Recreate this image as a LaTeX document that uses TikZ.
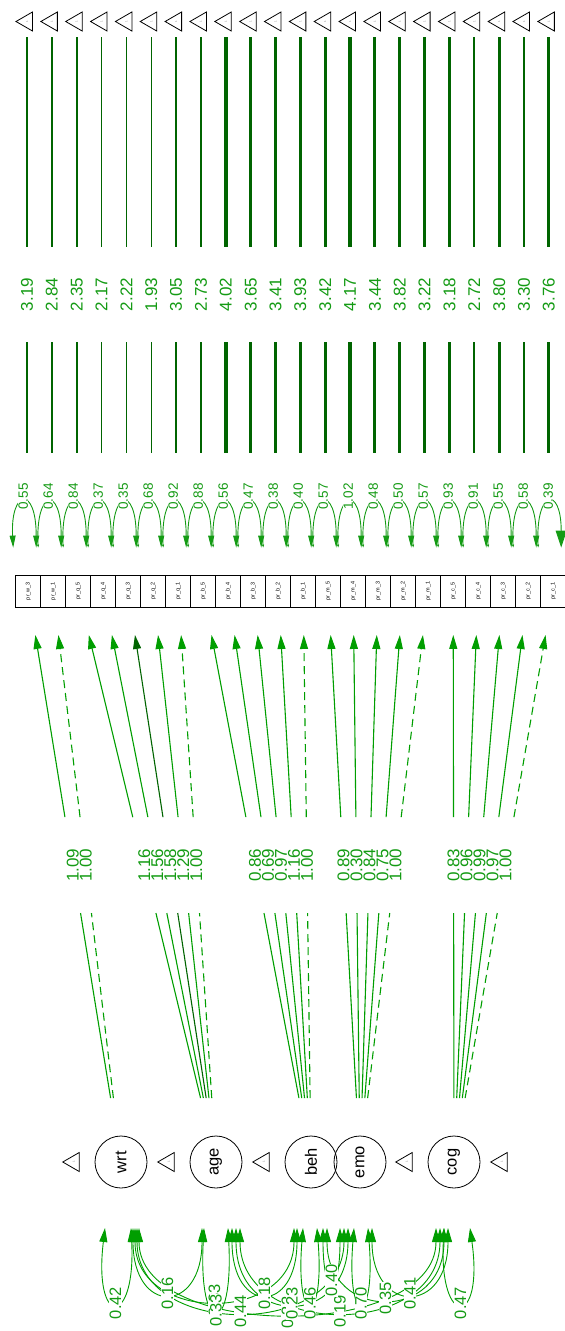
\documentclass[tikz,border=0pt]{standalone}
\usepackage{fontspec}
\setmainfont{Liberation Sans}
\usetikzlibrary{arrows.meta,calc,shapes.geometric}
\definecolor{dkg}{RGB}{0,100,0}
\definecolor{ldg}{RGB}{0,158,0}
\definecolor{txg}{RGB}{20,155,20}
\begin{document}
\begin{tikzpicture}[x=1pt,y=-1pt,
  tri/.style={regular polygon, regular polygon sides=3, draw, line width=0.8pt,
    minimum size=22pt, inner sep=0pt, rotate=90, text=gray, font=\fontsize{3}{3}\selectfont},
  indbox/.style={draw, line width=0.8pt, minimum width=25pt, minimum height=32pt,
    inner sep=0pt, font=\fontsize{5.5}{6}\selectfont},
  lat/.style={circle, draw, line width=0.8pt, minimum size=52pt, inner sep=0pt,
    font=\fontsize{16.5}{17}\selectfont},
  icline/.style={draw=dkg},
  iclab/.style={fill=white, text=txg, inner sep=1pt, minimum height=95pt,
    font=\fontsize{17}{17}\selectfont},
  resline/.style={draw=txg, line width=0.9pt},
  reslab/.style={fill=white, text=txg, inner sep=0.5pt, font=\fontsize{13.5}{14}\selectfont},
  ld/.style={draw=ldg, line width=1.1pt},
  ldd/.style={ld, dash pattern=on 8pt off 5pt},
  ldk/.style={draw=dkg, line width=1.1pt},
  ldlab/.style={text=txg, inner sep=0pt, font=\fontsize{17}{17}\selectfont},
  cov/.style={draw=ldg, line width=0.9pt,
    {Triangle[length=14pt,width=8pt]}-{Triangle[length=14pt,width=8pt]}},
  botlab/.style={fill=white, text=txg, inner sep=0.5pt, font=\fontsize{16.5}{17}\selectfont}
]
\useasboundingbox (0,0) rectangle (565,1331);
\clip (0,0) rectangle (565,1331);

% indicators, intercepts, residuals
\foreach \i/\nm/\ic/\rv in {
0/pr\_w\_3/3.19/0.55, 1/pr\_w\_1/2.84/0.64, 2/pr\_q\_5/2.35/0.84, 3/pr\_q\_4/2.17/0.37,
4/pr\_q\_3/2.22/0.35, 5/pr\_q\_2/1.93/0.68, 6/pr\_q\_1/3.05/0.92, 7/pr\_b\_5/2.73/0.88,
8/pr\_b\_4/4.02/0.56, 9/pr\_b\_3/3.65/0.47, 10/pr\_b\_2/3.41/0.38, 11/pr\_b\_1/3.93/0.40,
12/pr\_m\_5/3.42/0.57, 13/pr\_m\_4/4.17/1.02, 14/pr\_m\_3/3.44/0.48, 15/pr\_m\_2/3.82/0.50,
16/pr\_m\_1/3.22/0.57, 17/pr\_c\_5/3.18/0.93, 18/pr\_c\_4/2.72/0.91, 19/pr\_c\_3/3.80/0.55,
20/pr\_c\_2/3.30/0.58, 21/pr\_c\_1/3.76/0.39}{
  \pgfmathsetmacro{\cx}{28.2+25*\i}
  \pgfmathsetmacro{\lx}{27+24.85*\i}
  \pgfmathsetmacro{\lw}{1.0*\ic-0.5}
  \pgfmathsetmacro{\al}{\i==21 ? 17 : 12}
  \pgfmathsetmacro{\aw}{\i==21 ? 11 : 6}
  \pgfmathsetmacro{\sl}{\i==0 ? 12 : 3}
  \pgfmathsetmacro{\sw}{\i==0 ? 6 : 2}
  \node[indbox] (b\i) at (\cx,591) {\rotatebox{90}{\nm}};
  \node[tri] (t\i) at (\lx,21.5) {1};
  \draw[icline, line width=\lw pt, shorten <=15.5pt, shorten >=122pt]
    (t\i.center) -- (t\i.center |- b\i.north);
  \node[iclab] at (\lx,294.5) {\rotatebox{90}{\ic}};
  \draw[resline, {Triangle[length=\sl pt,width=\sw pt]}-{Triangle[length=\al pt,width=\aw pt]}]
    ([shift={(-15,-27)}]b\i.north) .. controls ([shift={(-18,-85)}]b\i.north)
    and ([shift={(8,-90)}]b\i.north) .. ([shift={(8,-27)}]b\i.north);
  \node[reslab] at ([shift={(-5,-78)}]b\i.north) {\rotatebox{90}{\rv}};
}

% latent variables
\node[lat] (wrt) at (121,1162) {\rotatebox{90}{wrt}};
\node[lat] (age) at (216,1162) {\rotatebox{90}{age}};
\node[lat] (beh) at (311,1162) {\rotatebox{90}{beh}};
\node[lat] (emo) at (360,1162) {\rotatebox{90}{emo}};
\node[lat] (cog) at (454,1162) {\rotatebox{90}{cog}};
\node[tri] (tl1) at (73.75,1162) {1};
\node[tri] (tl2) at (168.75,1162) {1};
\node[tri] (tl3) at (263.75,1162) {1};
\node[tri] (tl4) at (406.75,1162) {1};
\node[tri] (tl5) at (501.75,1162) {1};

% loadings
\foreach \i/\L/\v/\s in {0/wrt/1.09/ld, 1/wrt/1.00/ldd, 2/age/1.16/ld, 3/age/1.56/ld,
4/age/1.58/ldk, 5/age/1.29/ld, 6/age/1.00/ldd, 7/beh/0.86/ld, 8/beh/0.69/ld,
9/beh/0.97/ld, 10/beh/1.16/ld, 11/beh/1.00/ldd, 12/emo/0.89/ld, 13/emo/0.30/ld,
14/emo/0.84/ld, 15/emo/0.75/ld, 16/emo/1.00/ldd, 17/cog/0.83/ld, 18/cog/0.96/ld,
19/cog/0.99/ld, 20/cog/0.97/ld, 21/cog/1.00/ldd}{
  \draw[\s] ($(\L.center)!0.112!(b\i.center)$) -- ($(\L.center)!0.436!(b\i.center)$);
  \draw[\s, -{Triangle[length=14pt,width=8pt]}]
    ($(\L.center)!0.604!(b\i.center)$) -- ($(\L.center)!0.923!(b\i.center)$);
  \node[ldlab] at ($(\L.center)!0.52!(b\i.center)$) {\rotatebox{90}{\v}};
}

% latent variances and covariances
\draw[cov] ([shift={(-16,66)}]wrt.center) .. controls +(-12,100) and +(5,100) .. ([shift={(10,66)}]wrt.center) coordinate[pos=0.5] (vw);
\draw[cov] ([shift={(12,66)}]wrt.center) .. controls +(0,87) and +(0,87) .. ([shift={(-14,66)}]age.center) coordinate[pos=0.5] (cwa);
\draw[cov] ([shift={(14,66)}]wrt.center) .. controls +(0,96) and +(0,96) .. ([shift={(-17,66)}]beh.center) coordinate[pos=0.5] (cwb);
\draw[cov] ([shift={(16,66)}]wrt.center) .. controls +(0,111) and +(0,111) .. ([shift={(-16,66)}]emo.center) coordinate[pos=0.5] (cwe);
\draw[cov] ([shift={(18,66)}]wrt.center) .. controls +(0,113) and +(0,113) .. ([shift={(-18,66)}]cog.center) coordinate[pos=0.5] (cwc);
\draw[cov] ([shift={(-12,66)}]age.center) .. controls +(-6,110) and +(6,110) .. ([shift={(12,66)}]age.center) coordinate[pos=0.5] (va);
\draw[cov] ([shift={(16,66)}]age.center) .. controls +(0,87) and +(0,87) .. ([shift={(-14,66)}]beh.center) coordinate[pos=0.5] (cab);
\draw[cov] ([shift={(20,66)}]age.center) .. controls +(0,100) and +(0,100) .. ([shift={(-12,66)}]emo.center) coordinate[pos=0.5] (cae);
\draw[cov] ([shift={(24,66)}]age.center) .. controls +(0,111) and +(0,111) .. ([shift={(-14,66)}]cog.center) coordinate[pos=0.5] (cac);
\draw[cov] ([shift={(-8,66)}]beh.center) .. controls +(-8,100) and +(8,100) .. ([shift={(6,66)}]beh.center) coordinate[pos=0.5] (vb);
\draw[cov] ([shift={(12,66)}]beh.center) .. controls +(0,70) and +(0,70) .. ([shift={(-20,66)}]emo.center) coordinate[pos=0.5] (cbe);
\draw[cov] ([shift={(16,66)}]beh.center) .. controls +(0,94) and +(0,94) .. ([shift={(-10,66)}]cog.center) coordinate[pos=0.5] (cbc);
\draw[cov] ([shift={(-6,66)}]emo.center) .. controls +(-8,100) and +(8,100) .. ([shift={(8,66)}]emo.center) coordinate[pos=0.5] (ve);
\draw[cov] ([shift={(12,66)}]emo.center) .. controls +(0,87) and +(0,87) .. ([shift={(-6,66)}]cog.center) coordinate[pos=0.5] (cec);
\draw[cov] ([shift={(-10,66)}]cog.center) .. controls +(-5,100) and +(14,100) .. ([shift={(16,66)}]cog.center) coordinate[pos=0.5] (vc);

\node[botlab] at (vw) {\rotatebox{90}{0.42}};
\node[botlab] at (cwa) {\rotatebox{90}{0.16}};
\node[botlab] at (cwb) {\rotatebox{90}{0.33}};
\node[botlab] at (cwe) {\rotatebox{90}{0.44}};
\node[botlab] at (cwc) {\rotatebox{90}{0.32}};
\node[botlab] at (va) {\rotatebox{90}{0.33}};
\node[botlab] at (cab) {\rotatebox{90}{0.18}};
\node[botlab] at (cae) {\rotatebox{90}{0.23}};
\node[botlab] at (cac) {\rotatebox{90}{0.19}};
\node[botlab] at (vb) {\rotatebox{90}{0.46}};
\node[botlab] at (cbe) {\rotatebox{90}{0.40}};
\node[botlab] at (cbc) {\rotatebox{90}{0.35}};
\node[botlab] at (ve) {\rotatebox{90}{0.70}};
\node[botlab] at (cec) {\rotatebox{90}{0.41}};
\node[botlab] at (vc) {\rotatebox{90}{0.47}};
\end{tikzpicture}
\end{document}
